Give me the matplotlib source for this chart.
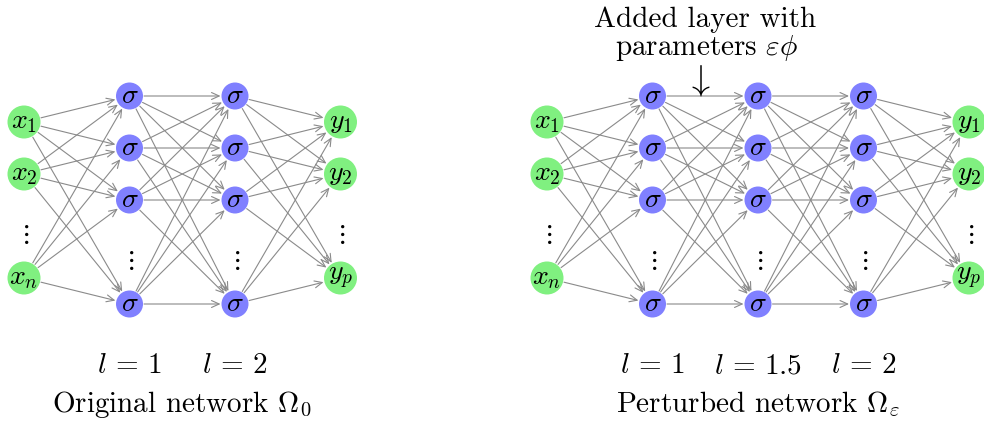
import matplotlib
matplotlib.use("Agg")
import matplotlib.pyplot as plt
from matplotlib.patches import Circle, FancyArrowPatch
import numpy as np

#Computer Modern look for all text
plt.rcParams['mathtext.fontset'] = 'cm'
plt.rcParams['font.family'] = 'serif'
plt.rcParams['font.serif'] = ['cmr10']
plt.rcParams['axes.formatter.use_mathtext'] = True

#Node labels for each kind of layer, None is the vertical dots row
inputs = ['$x_1$', '$x_2$', None, '$x_n$']
hidden = ['$\\sigma$', '$\\sigma$', '$\\sigma$', None, '$\\sigma$']
outputs = ['$y_1$', '$y_2$', None, '$y_p$']

#The two networks
left_layers = [inputs, hidden, hidden, outputs]
left_names = ['$l\\,=\\,1$', '$l\\,=\\,2$']
left_title = 'Original network $\\Omega_0$'

right_layers = [inputs, hidden, hidden, hidden, outputs]
right_names = ['$l\\,=\\,1$', '$l\\,=\\,1.5$', '$l\\,=\\,2$']
right_title = 'Perturbed network $\\Omega_\\varepsilon$'

note_lines = ['Added layer with', 'parameters $\\varepsilon\\phi$']

GREEN = '#80f080'
BLUE = '#8080ff'
EDGE = '#8a8a8a'
FS = 21
NODE_FS = 20

fig = plt.figure(figsize=(9.84, 4.24), dpi=100)
ax = fig.add_axes([0, 0, 1, 1])
ax.set_xlim(0, 984)
ax.set_ylim(424, 0)
ax.set_aspect('equal')
ax.axis('off')


def layer_nodes(labels, x):
    #Rows are centred on y=200 with a 52 px step
    n = len(labels)
    ys = 200 + 52 * (np.arange(n) - (n - 1) / 2)
    return [(x, y, lab) for y, lab in zip(ys, labels)]


def draw_network(layers, names, title, x0, step=105.5):
    all_nodes = []
    for i, labels in enumerate(layers):
        nodes = layer_nodes(labels, x0 + i * step)
        outer = (i == 0 or i == len(layers) - 1)
        r = 16.5 if outer else 13.5
        all_nodes.append((nodes, r))
        for x, y, lab in nodes:
            if lab is None:
                ax.text(x, y + 8, '$\\vdots$', ha='center', va='center', fontsize=19)
                continue
            ax.add_patch(Circle((x, y), r, facecolor=GREEN if outer else BLUE,
                                edgecolor='none', zorder=3))
            ax.text(x, y, lab, ha='center', va='center', fontsize=NODE_FS, zorder=4)

    #Fully connected arrows between neighbouring layers
    for (a_nodes, ra), (b_nodes, rb) in zip(all_nodes[:-1], all_nodes[1:]):
        for xa, ya, la in a_nodes:
            if la is None:
                continue
            for xb, yb, lb in b_nodes:
                if lb is None:
                    continue
                d = np.array([xb - xa, yb - ya])
                u = d / np.hypot(*d)
                p1 = np.array([xa, ya]) + u * (ra + 1)
                p2 = np.array([xb, yb]) - u * (rb + 1)
                ax.add_patch(FancyArrowPatch(p1, p2,
                                             arrowstyle='->,head_length=5.5,head_width=2.5',
                                             color=EDGE, lw=0.8, shrinkA=0, shrinkB=0,
                                             zorder=2))

    #Layer names under the hidden layers
    for j, name in enumerate(names):
        ax.text(x0 + (j + 1) * step, 373, name, ha='center', va='baseline', fontsize=FS)
    mid = x0 + (len(layers) - 1) * step / 2
    ax.text(mid, 412, title, ha='center', va='baseline', fontsize=FS)


draw_network(left_layers, left_names, left_title, 24)
draw_network(right_layers, right_names, right_title, 547)

#Note about the added layer
ax.text(705, 27, note_lines[0], ha='center', va='baseline', fontsize=FS)
ax.text(707, 55, note_lines[1], ha='center', va='baseline', fontsize=FS)
ax.text(698, 81, '$\\downarrow$', ha='center', va='center', fontsize=26)

fig.savefig('out.png', dpi=100)
